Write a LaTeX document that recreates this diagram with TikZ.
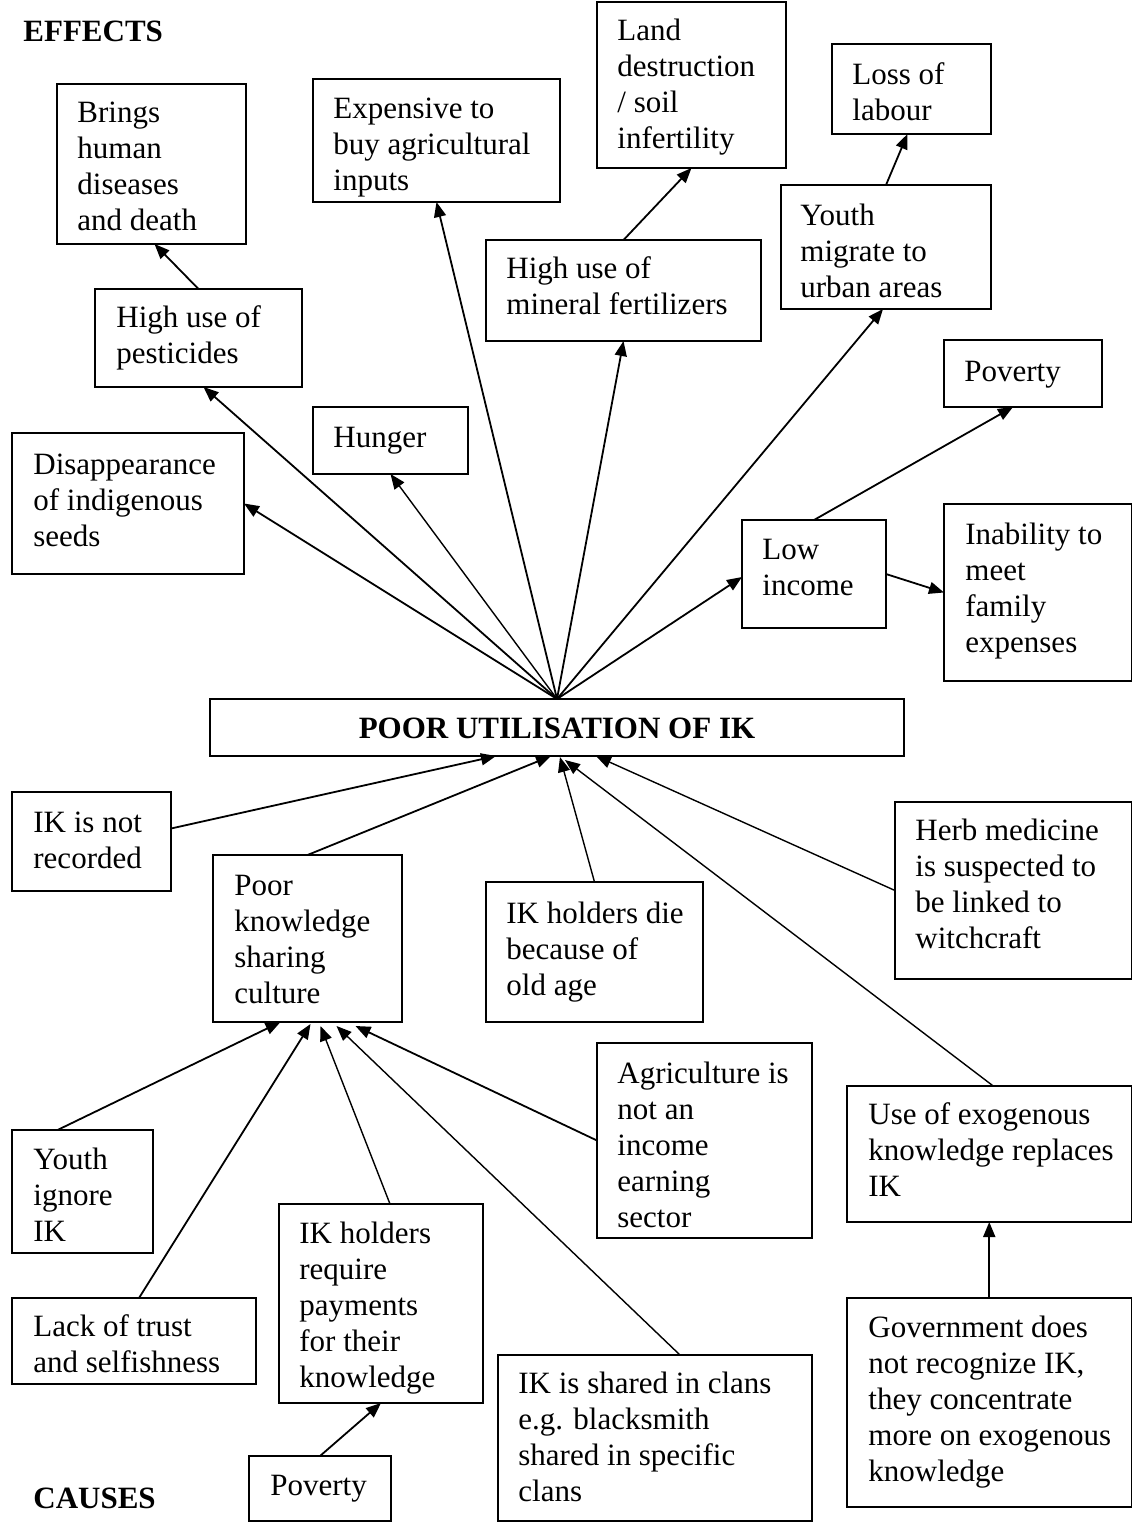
\documentclass[tikz,border=0pt]{standalone}
\usepackage{fontspec}
\setmainfont{Liberation Serif}
\usetikzlibrary{arrows.meta,calc}
\newcommand\mltext[1]{\begin{tabular}[t]{@{}l@{}}#1\end{tabular}}
\newcommand\bx[5]{\node[boxnode, anchor=north west, minimum width={(#4-#2)*0.5pt}, minimum height={(#5-#3)*0.5pt}] (#1) at (#2,#3) {};}
\tikzset{
  boxnode/.style={draw, line width=0.9pt, inner sep=0pt, outer sep=0pt, rectangle},
  txt/.style={anchor=base west, inner sep=0pt, font=\fontsize{15.5}{18}\selectfont},
  arr/.style={-{Triangle[length=7.5pt,width=6pt]}, line width=0.9pt},
  thinarr/.style={-{Triangle[length=7.5pt,width=6pt]}, line width=0.7pt}
}
\begin{document}
\begin{tikzpicture}[x=0.5pt,y=-0.5pt]
\useasboundingbox (0,0) rectangle (1133,1523);
% headings
\node[txt, font=\fontsize{15.5}{18}\selectfont\bfseries] (effects) at (23,41) {EFFECTS};
\node[txt, font=\fontsize{15.5}{18}\selectfont\bfseries] (causes) at (33,1508) {CAUSES};
% boxes
\bx{brings}{57}{84}{246}{244}
\bx{exp}{313}{79}{560}{202}
\bx{land}{597}{2}{786}{168}
\bx{loss}{832}{44}{991}{134}
\bx{pest}{95}{289}{302}{387}
\bx{min}{486}{240}{761}{341}
\bx{you}{781}{185}{991}{309}
\bx{pov}{944}{340}{1102}{407}
\bx{hun}{313}{407}{468}{474}
\bx{dis}{12}{433}{244}{574}
\bx{low}{742}{520}{886}{628}
\bx{inab}{944}{504}{1131.5}{681}
\bx{main}{210}{699}{904}{756}
\bx{rec}{12}{792}{171}{891}
\bx{pk}{213}{855}{402}{1022}
\bx{die}{486}{882}{703}{1022}
\bx{herb}{895}{802}{1131.5}{979}
\bx{agri}{597}{1043}{812}{1238}
\bx{use}{847}{1086}{1131.5}{1222}
\bx{yig}{12}{1130}{153}{1253}
\bx{lack}{12}{1298}{256}{1384}
\bx{ikhr}{279}{1204}{483}{1403}
\bx{shared}{498}{1355}{812}{1521}
\bx{gov}{847}{1298}{1131.5}{1507}
\bx{povb}{249}{1456}{391}{1521}
% texts
\node[txt] (t-brings) at (77,122) {\mltext{Brings\\human\\diseases\\and death}};
\node[txt] (t-exp) at (333,118) {\mltext{Expensive to\\buy agricultural\\inputs}};
\node[txt] (t-land) at (617,40) {\mltext{Land\\destruction\\/ soil\\infertility}};
\node[txt] (t-loss) at (852,84) {\mltext{Loss of\\labour}};
\node[txt] (t-pest) at (116,327) {\mltext{High use of\\pesticides}};
\node[txt] (t-min) at (506,278) {\mltext{High use of\\mineral fertilizers}};
\node[txt] (t-you) at (800,225) {\mltext{Youth\\migrate to\\urban areas}};
\node[txt] (t-pov) at (964,381) {Poverty};
\node[txt] (t-hun) at (333,447) {Hunger};
\node[txt] (t-dis) at (33,474) {\mltext{Disappearance\\of indigenous\\seeds}};
\node[txt] (t-low) at (762,559) {\mltext{Low\\income}};
\node[txt] (t-inab) at (965,544) {\mltext{Inability to\\meet\\family\\expenses}};
\node[txt, anchor=base, font=\fontsize{15.5}{18}\selectfont\bfseries] (t-main) at (557,738.5) {POOR UTILISATION OF IK};
\node[txt] (t-rec) at (33,832) {\mltext{IK is not\\recorded}};
\node[txt] (t-pk) at (234,895) {\mltext{Poor\\knowledge\\sharing\\culture}};
\node[txt] (t-die) at (506,923) {\mltext{IK holders die\\because of\\old age}};
\node[txt] (t-herb) at (915,840) {\mltext{Herb medicine\\is suspected to\\be linked to\\witchcraft}};
\node[txt] (t-agri) at (617,1083) {\mltext{Agriculture is\\not an\\income\\earning\\sector}};
\node[txt] (t-use) at (868,1124) {\mltext{Use of exogenous\\knowledge replaces\\IK}};
\node[txt] (t-yig) at (33,1169) {\mltext{Youth\\ignore\\IK}};
\node[txt] (t-lack) at (33,1336) {\mltext{Lack of trust\\and selfishness}};
\node[txt] (t-ikhr) at (299,1243) {\mltext{IK holders\\require\\payments\\for their\\knowledge}};
\node[txt] (t-shared) at (518,1393) {\mltext{IK is shared in clans\\e.g. blacksmith\\shared in specific\\clans}};
\node[txt] (t-gov) at (868,1337) {\mltext{Government does\\not recognize IK,\\they concentrate\\more on exogenous\\knowledge}};
\node[txt] (t-povb) at (270,1495) {Poverty};
% effect arrows
\coordinate (hub) at (main.north);
\draw[arr] (hub) -- (dis.east);
\draw[arr] (hub) -- ($(pest.south)+(5,0)$);
\draw[thinarr] (hub) -- (hun.south);
\draw[arr] (hub) -- (exp.south);
\draw[arr] (hub) -- (min.south);
\draw[arr] (hub) -- ($(you.south)+(-3,0)$);
\draw[arr] (hub) -- ($(low.west)+(0,3)$);
\draw[arr] (pest.north) -- ($(brings.south)+(3,0)$);
\draw[arr] (min.north) -- (land.south);
\draw[arr] (you.north) -- ($(loss.south)+(-4,0)$);
\draw[arr] (low.north) -- ($(pov.south)+(-10,0)$);
\draw[arr] (low.east) -- (inab.west);
% cause arrows
\draw[arr] ($(rec.east)+(0,-13)$) -- ($(main.south)+(-61,0)$);
\draw[arr] (pk.north) -- ($(main.south)+(-6,0)$);
\draw[thinarr] (die.north) -- ($(main.south)+(3,1)$);
\draw[thinarr] ($(use.north)+(4,0)$) -- ($(main.south)+(8,4)$);
\draw[thinarr] (herb.west) -- ($(main.south)+(39,0)$);
\draw[arr] ($(yig.north)+(-25,0)$) -- ($(pk.south)+(-27,0)$);
\draw[arr] ($(lack.north)+(5,0)$) -- ($(pk.south)+(3,2)$);
\draw[thinarr] ($(ikhr.north)+(9,0)$) -- ($(pk.south)+(13,4)$);
\draw[thinarr] ($(shared.north)+(25,0)$) -- ($(pk.south)+(29,4)$);
\draw[arr] (agri.west) -- ($(pk.south)+(48,4)$);
\draw[arr] (povb.north) -- (ikhr.south);
\draw[arr] (gov.north) -- (use.south);
\end{tikzpicture}
\end{document}
